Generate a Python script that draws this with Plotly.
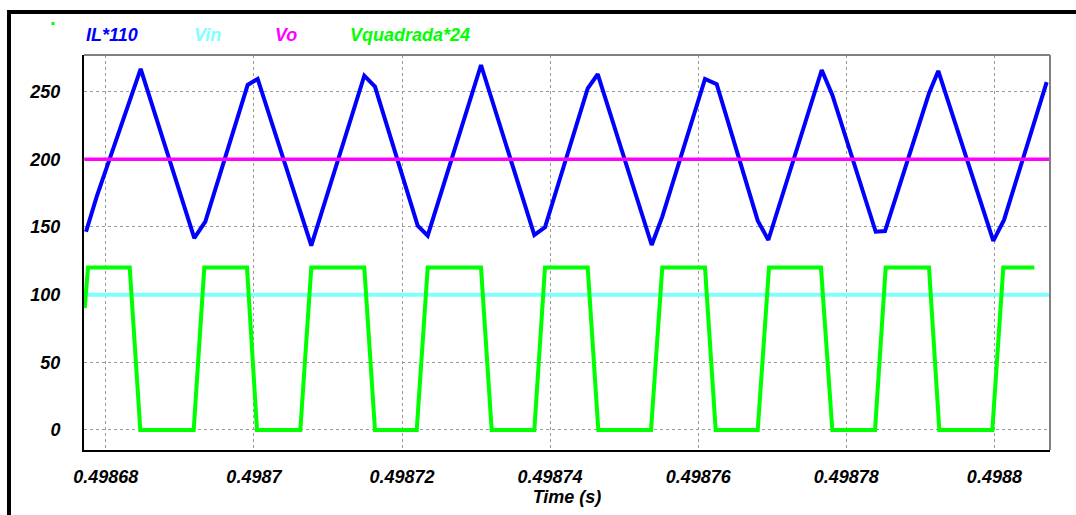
import plotly.graph_objects as go

# Inductor current (scaled x110): vertices of the sampled waveform
il_t = [0.49867733, 0.49867877, 0.49868471, 0.49869195, 0.49869344, 0.49869916,
        0.49870051, 0.49870775, 0.49871491, 0.49871635, 0.49872212, 0.49872347,
        0.49873067, 0.49873787, 0.49873931, 0.49874508, 0.49874643, 0.49875372,
        0.49875515, 0.49876092, 0.49876250, 0.49876804, 0.49876947, 0.49877668,
        0.49877811, 0.49878397, 0.49878523, 0.49879117, 0.49879242, 0.49879985,
        0.49880130, 0.49880706]
il_v = [146.5, 172.4, 266.8, 141.7, 153.9, 255.0,
        259.4, 136.2, 261.8, 253.7, 151.0, 143.6,
        269.7, 144.1, 149.8, 252.5, 262.9, 136.7,
        157.6, 259.4, 255.5, 154.7, 140.4, 266.0,
        247.6, 146.5, 147.0, 248.8, 265.3, 139.7,
        155.2, 257.0]

# Gate square wave (scaled x24)
sq_t = [0.49867715, 0.49867760, 0.49868323, 0.49868466, 0.49869187, 0.49869330,
        0.49869907, 0.49870042, 0.49870627, 0.49870775, 0.49871491, 0.49871635,
        0.49872199, 0.49872347, 0.49873067, 0.49873211, 0.49873787, 0.49873931,
        0.49874508, 0.49874651, 0.49875363, 0.49875515, 0.49876092, 0.49876236,
        0.49876804, 0.49876956, 0.49877658, 0.49877811, 0.49878388, 0.49878532,
        0.49879117, 0.49879256, 0.49879972, 0.49880120, 0.49880539]
sq_v = [90, 120, 120, 0, 0, 120,
        120, 0, 0, 120, 120, 0,
        0, 120, 120, 0, 0, 120,
        120, 0, 0, 120, 120, 0,
        0, 120, 120, 0, 0, 120,
        120, 0, 0, 120, 120]

# Input and output voltages (constant)
dc_t = [0.49867710, 0.49880751]
vin_v = [100, 100]
vo_v = [200, 200]

x_ticks = [0.49868, 0.49870, 0.49872, 0.49874, 0.49876, 0.49878, 0.49880]
x_tick_text = ["0.49868", "0.4987", "0.49872", "0.49874", "0.49876", "0.49878", "0.4988"]
y_ticks = [0, 50, 100, 150, 200, 250]

series_names = ["IL*110", "Vin", "Vo", "Vquadrada*24"]
series_colors = ["#0000FF", "#80FFFF", "#FF00FF", "#00FF00"]

FONT = "Liberation Sans, Arial, sans-serif"

fig = go.Figure()
fig.add_trace(go.Scatter(x=il_t, y=il_v, mode="lines", name=series_names[0],
                         line=dict(color=series_colors[0], width=4)))
fig.add_trace(go.Scatter(x=dc_t, y=vin_v, mode="lines", name=series_names[1],
                         line=dict(color=series_colors[1], width=4)))
fig.add_trace(go.Scatter(x=dc_t, y=vo_v, mode="lines", name=series_names[2],
                         line=dict(color=series_colors[2], width=3.5)))
fig.add_trace(go.Scatter(x=sq_t, y=sq_v, mode="lines", name=series_names[3],
                         line=dict(color=series_colors[3], width=4)))

W, H = 1076, 515
ML, MR, MT, MB = 84, 26, 55, 65
PW, PH = W - ML - MR, H - MT - MB


def px(x):
    return (x - ML) / PW


def py(y):
    return (H - MB - y) / PH


tick_font = dict(family=FONT, size=18, color="black", weight="bold", style="italic")

fig.update_layout(
    width=W, height=H,
    margin=dict(l=ML, r=MR, t=MT, b=MB, pad=0),
    paper_bgcolor="white", plot_bgcolor="white",
    showlegend=False,
    xaxis=dict(
        range=[0.498677056, 0.498807508],
        tickvals=x_ticks, ticktext=x_tick_text,
        tickfont=tick_font, ticks="", ticklabelstandoff=9,
        showgrid=True, gridcolor="#9a9a9a", gridwidth=1, griddash="dot",
        zeroline=False, showline=True, linecolor="black", linewidth=2,
        title=dict(text="Time (s)", font=tick_font, standoff=5),
    ),
    yaxis=dict(
        range=[-14.8, 277.1],
        tickvals=y_ticks, tickfont=tick_font, ticks="", ticklabelstandoff=18,
        showgrid=True, gridcolor="#9a9a9a", gridwidth=1, griddash="dot",
        zeroline=False, showline=True, linecolor="black", linewidth=2,
    ),
)

# Plot-area border: gray on top and right
fig.add_shape(type="line", xref="paper", yref="paper", x0=0, x1=1, y0=1, y1=1,
              line=dict(color="#808080", width=2))
fig.add_shape(type="line", xref="paper", yref="paper", x0=1, x1=1, y0=0, y1=1,
              line=dict(color="#808080", width=2))

# Outer window frame (left and top edges)
fig.add_shape(type="line", xref="paper", yref="paper", x0=px(9), x1=px(9), y0=py(10), y1=py(530),
              line=dict(color="black", width=4))
fig.add_shape(type="line", xref="paper", yref="paper", x0=px(7), x1=px(1090), y0=py(12), y1=py(12),
              line=dict(color="black", width=4))

# Small green marker at the top-left corner
fig.add_shape(type="rect", xref="paper", yref="paper", x0=px(51.5), x1=px(54.5), y0=py(25), y1=py(22),
              line=dict(width=0), fillcolor="#00FF00")

# Series labels along the top
label_x = [84, 192, 273, 348]
for name, color, xpix in zip(series_names, series_colors, label_x):
    fig.add_annotation(text=name, xref="paper", yref="paper", x=px(xpix), y=py(35),
                       xanchor="left", yanchor="middle", showarrow=False,
                       font=dict(family=FONT, size=18, color=color, weight="bold", style="italic"))

fig.write_html("out.html")
